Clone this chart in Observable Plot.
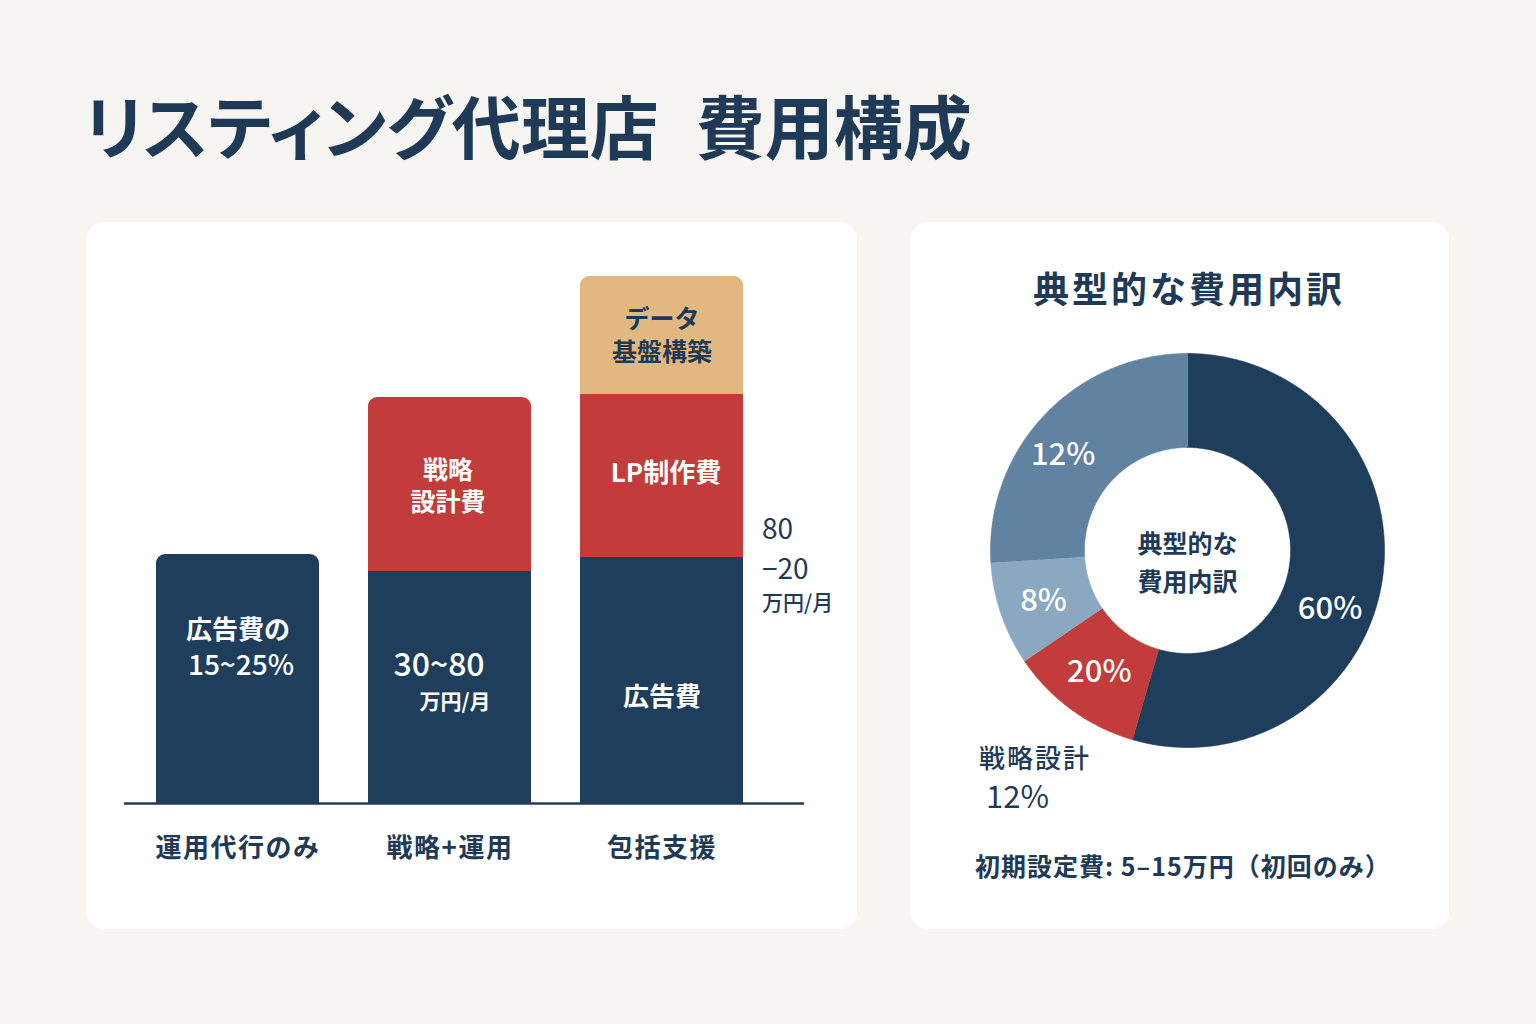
<!DOCTYPE html>
<html>
<head>
<meta charset="utf-8">
<script src="https://cdn.jsdelivr.net/npm/d3@7"></script>
<script src="https://cdn.jsdelivr.net/npm/@observablehq/plot@0.6"></script>
<style>
  html, body { margin: 0; padding: 0; background: #f6f5f2; }
  body { font-family: "Noto Sans CJK JP", "Noto Sans", sans-serif; color: #1e3a56; }
  #page { position: relative; width: 1536px; height: 1024px; overflow: hidden; }
  .abs { position: absolute; white-space: pre; }
  .card { position: absolute; background: #ffffff; border-radius: 18px; }
  #title { left: 84px; top: 90px; font-size: 69px; line-height: 69px; font-weight: 700; font-feature-settings: "palt" 1; }
  #pieTitle { left: 939px; width: 500px; text-align: center; top: 269px; font-size: 36px; line-height: 36px; font-weight: 700; letter-spacing: 3px; }
  #pieNote1 { left: 979px; top: 744px; font-size: 26px; line-height: 26px; font-weight: 500; letter-spacing: 2px; }
  #pieNote2 { left: 986px; top: 779px; font-size: 31px; line-height: 31px; font-weight: 400; }
  #pieNote3 { left: 975px; top: 853px; font-size: 25px; line-height: 25px; font-weight: 700; letter-spacing: 1px; }
  svg text { font-family: "Noto Sans CJK JP", "Noto Sans", sans-serif; }
  #barCard svg g[aria-label="x-axis tick label"] text { letter-spacing: 1.5px; }
</style>
</head>
<body>
<div id="page">
  <div class="abs" id="title"></div>
  <div class="card" id="barCard" style="left:86px;top:222px;width:771px;height:707px"></div>
  <div class="card" id="pieCard" style="left:910px;top:222px;width:539px;height:707px"></div>
  <div class="abs" id="pieTitle"></div>
  <div class="abs" id="pieNote1"></div>
  <div class="abs" id="pieNote2"></div>
  <div class="abs" id="pieNote3"></div>
</div>
<script>
// ---------------- DATA ----------------
const titleParts = ["リスティング代理店", "費用構成"];

// Stacked bars (relative heights)
const plans = ["運用代行のみ", "戦略+運用", "包括支援"];
const tiers = ["広告費・運用", "戦略設計費・LP制作費", "データ基盤構築"];
const tierBase = [124.5, 116, 123];
const tierMiddle = [0, 87, 81.5];
const tierTop = [0, 0, 59];

const baseLabelA = ["広告費の", "30~80", "広告費"];
const baseLabelB = ["15~25%", "万円/月", ""];
const middleLabels = ["", "戦略\n設計費", "LP制作費"];
const topLabels = ["", "", "データ\n基盤構築"];
const rangeNote = ["80\n−20", "万円/月"];

// Donut (slice sizes as drawn; labels as printed)
const pieTitle = "典型的な費用内訳";
const pieCenter = "典型的な\n費用内訳";
const sliceNames = ["広告費", "運用手数料", "その他", "戦略設計"];
const sliceShares = [54.5, 11, 8.5, 26];
const sliceLabels = ["60%", "20%", "8%", "12%"];
const noteName = "戦略設計";
const noteValue = "12%";
const setupNote = "初期設定費: 5–15万円（初回のみ）";

// ---------------- STYLE ----------------
const NAVY = "#1f3e5c";
const RED = "#c23c3c";
const TAN = "#e0b880";
const MID = "#5f83a1";
const LIGHT = "#8aa9c0";
const INK = "#1e3a56";
const FONT = "Noto Sans CJK JP";
const labelNudge = {0: [-6, 37], 1: [0, 0], 2: [-2, 2], 3: [-15, 7]};

// ---------------- TEXT BLOCKS ----------------
const t = document.getElementById("title");
t.appendChild(document.createTextNode(titleParts[0]));
const gap = document.createElement("span");
gap.style.display = "inline-block"; gap.style.width = "37px";
t.appendChild(gap);
t.appendChild(document.createTextNode(titleParts[1]));
document.getElementById("pieTitle").textContent = pieTitle;
document.getElementById("pieNote1").textContent = noteName;
document.getElementById("pieNote2").textContent = noteValue;
document.getElementById("pieNote3").textContent = setupNote;

// ---------------- BAR CHART ----------------
const segments = [];
plans.forEach((plan, i) => {
  const vals = [tierBase[i], tierMiddle[i], tierTop[i]];
  const last = vals.reduce((a, v, k) => (v > 0 ? k : a), 0);
  let y = 0;
  vals.forEach((v, k) => {
    if (v > 0) {
      segments.push({plan, tier: tiers[k], k, i, y1: y, y2: y + v, mid: y + v / 2, top: k === last});
      y += v;
    }
  });
});
const seg = (i, k) => segments.filter(d => d.i === i && d.k === k);
const lab = (i, k, text, o = {}) => Plot.text(seg(i, k), {
  x: "plan", y: "mid", text: () => text, fill: "white", fontSize: 26, fontWeight: 700,
  lineAnchor: "middle", fontFamily: FONT, ...o
});

const barChart = Plot.plot({
  width: 771, height: 707,
  marginLeft: 38, marginRight: 53, marginTop: 21, marginBottom: 126,
  style: {background: "transparent", color: INK, fontFamily: FONT},
  x: {domain: plans, paddingInner: 0.233, paddingOuter: 0.2165, align: 0.34},
  y: {domain: [0, 280], axis: null},
  color: {domain: tiers, range: [NAVY, RED, TAN]},
  marks: [
    Plot.barY(segments.filter(d => d.top), {x: "plan", y1: "y1", y2: "y2", fill: "tier", rx: 9}),
    Plot.barY(segments.filter(d => d.top), {x: "plan", y1: "y1", y2: "y2", fill: "tier", insetTop: 9}),
    Plot.barY(segments.filter(d => !d.top), {x: "plan", y1: "y1", y2: "y2", fill: "tier"}),
    Plot.ruleY([0], {stroke: NAVY, strokeWidth: 2.5}),
    Plot.axisX({tickSize: 0, tickPadding: 35, fontSize: 26, fontWeight: 700, fill: INK, label: null, fontFamily: FONT}),
    // bar 1
    lab(0, 0, baseLabelA[0], {dy: -48}),
    lab(0, 0, baseLabelB[0], {dy: -13, fontSize: 28, fontWeight: 500, dx: 3}),
    // bar 2
    lab(1, 0, baseLabelA[1], {dy: -22, dx: -11, fontSize: 32, fontWeight: 500}),
    lab(1, 0, baseLabelB[1], {dy: 15, dx: 5, fontSize: 21}),
    lab(1, 1, middleLabels[1], {fontSize: 25, lineHeight: 1.3, dx: -2}),
    // bar 3
    lab(2, 0, baseLabelA[2], {dy: 17}),
    lab(2, 1, middleLabels[2], {dy: -2, dx: 4}),
    lab(2, 2, topLabels[2], {fill: INK, fontSize: 25, lineHeight: 1.32, dy: -2}),
    // range note to the right of bar 3
    Plot.text(seg(2, 0), {x: "plan", y: "y2", text: () => rangeNote[0], textAnchor: "start", dx: 100, dy: -11, fontSize: 28, lineHeight: 1.4, fill: INK, lineAnchor: "middle", fontFamily: FONT}),
    Plot.text(seg(2, 0), {x: "plan", y: "y2", text: () => rangeNote[1], textAnchor: "start", dx: 100, dy: 46, fontSize: 21, fontWeight: 500, fill: INK, lineAnchor: "middle", fontFamily: FONT})
  ]
});
document.getElementById("barCard").appendChild(barChart);

// ---------------- DONUT ----------------
const RIN = 0.523;
const total = d3.sum(sliceShares);
let acc = 0;
const arcs = sliceShares.map((v, i) => {
  const a0 = acc / total * 2 * Math.PI;
  acc += v;
  const a1 = acc / total * 2 * Math.PI;
  return {name: sliceNames[i], label: sliceLabels[i], a0, a1, am: (a0 + a1) / 2, i};
});
const ringPts = arcs.flatMap(s => {
  const n = Math.max(2, Math.ceil((s.a1 - s.a0) / (Math.PI / 360)));
  const angs = d3.range(n + 1).map(j => s.a0 + (s.a1 - s.a0) * j / n);
  return [
    ...angs.map(a => ({name: s.name, x: Math.sin(a), y: Math.cos(a)})),
    ...angs.slice().reverse().map(a => ({name: s.name, x: RIN * Math.sin(a), y: RIN * Math.cos(a)}))
  ];
});
const RL = (1 + RIN) / 2;
const sliceText = (i) => Plot.text(arcs.filter(d => d.i === i), {
  x: d => RL * Math.sin(d.am), y: d => RL * Math.cos(d.am), text: "label",
  dx: labelNudge[i][0], dy: labelNudge[i][1],
  fill: "white", fontSize: 31, fontWeight: 500, lineAnchor: "middle", fontFamily: FONT
});
const donut = Plot.plot({
  width: 539, height: 707,
  marginLeft: 80, marginRight: 65, marginTop: 131, marginBottom: 182,
  style: {background: "transparent", color: INK, fontFamily: FONT},
  x: {domain: [-1, 1], axis: null},
  y: {domain: [-1, 1], axis: null},
  color: {domain: sliceNames, range: [NAVY, RED, LIGHT, MID]},
  marks: [
    Plot.line(ringPts, {x: "x", y: "y", z: "name", fill: "name", stroke: "name", strokeWidth: 0.6}),
    ...arcs.map(d => sliceText(d.i)),
    Plot.text([pieCenter], {frameAnchor: "middle", dy: 9, fill: INK, fontSize: 25, fontWeight: 700, lineHeight: 1.55, lineAnchor: "middle", fontFamily: FONT})
  ]
});
document.getElementById("pieCard").appendChild(donut);
</script>
</body>
</html>
